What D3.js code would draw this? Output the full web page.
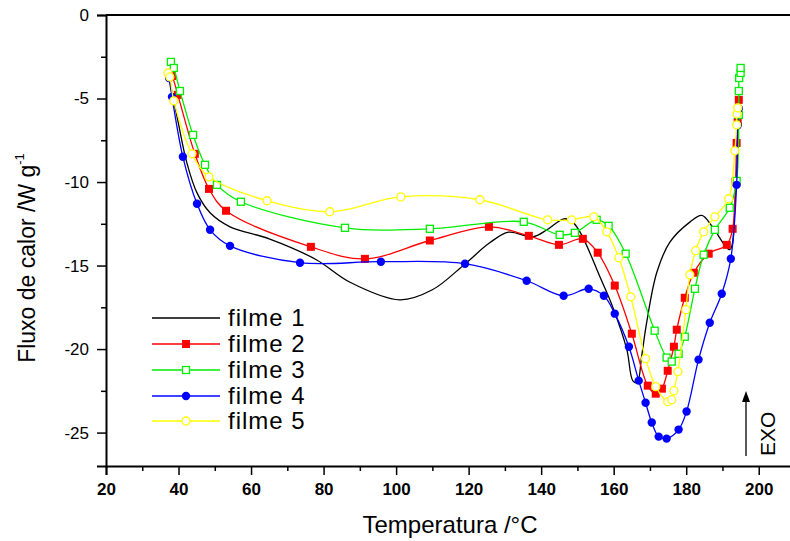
<!DOCTYPE html>
<html><head><meta charset="utf-8">
<script src="https://cdn.jsdelivr.net/npm/d3@7"></script>
<style>body{margin:0;background:#fff;} svg{display:block;font-family:"Liberation Sans",Arial,sans-serif;}</style>
</head><body>
<svg id="c" width="790" height="541"></svg>
<script>
const seriesNames = ["filme 1","filme 2","filme 3","filme 4","filme 5"];
const xTicks = [20,40,60,80,100,120,140,160,180,200];
const yTicks = [0,-5,-10,-15,-20,-25];

const t1 = [37.2,39.6,42.3,45.1,48.7,54.2,65,78,87.3,101,110,119,125.8,131,137.7,141.6,146.3,148.7,151,156.2,159.7,163.6,165.3,166.5,167.7,169.1,171.9,175.5,181,184.3,187.3,192,193.5,194.3,194.6];
const f1 = [-3.6,-6.1,-8.85,-10.65,-11.84,-12.68,-13.4,-14.65,-16.0,-17.05,-16.45,-14.9,-13.64,-13.0,-13.28,-12.86,-12.2,-12.4,-13.1,-15.67,-17.46,-20.0,-21.9,-22.0,-20.45,-18.4,-15.4,-13.6,-12.4,-12.0,-12.7,-14.05,-11,-7,-5.0];

const t2 = [37.4,38.2,39.8,44.5,48.4,53.1,76.5,91.4,109.3,125.6,136.6,144.9,151.5,155.6,160.3,165.0,169.4,171.6,173.3,174.9,176.6,177.4,179.6,182.1,186.2,191.2,192.8,193.6,193.9,194.2,194.5];
const f2 = [-3.47,-3.65,-4.78,-8.31,-10.41,-11.72,-13.88,-14.6,-13.5,-12.68,-13.22,-13.76,-13.4,-14.23,-16.2,-19.08,-22.19,-22.67,-22.37,-21.3,-19.86,-18.84,-16.93,-15.43,-14.29,-13.76,-12.8,-9.99,-7.66,-6.4,-5.08];

const t3 = [37.9,38.7,40.4,44.0,47.3,50.6,57.2,85.9,109.3,135.2,145.1,149.3,155.3,158.6,163.3,171.3,174.6,176.0,177.9,179.6,182.4,184.8,187.9,192.0,193.9,194.5,194.5,194.6,195.0,195.0];
const f3 = [-2.81,-3.17,-4.55,-7.18,-8.97,-10.17,-11.18,-12.74,-12.8,-12.38,-13.16,-13.04,-12.26,-12.62,-14.29,-18.9,-20.51,-20.75,-20.28,-19.26,-16.39,-14.35,-12.86,-11.54,-9.93,-5.98,-4.55,-3.77,-3.47,-3.17];

const t4 = [37.4,38.2,41.2,45.1,48.7,54.2,73.5,95.8,119.0,136.0,146.2,153.1,157.3,160.3,164.2,166.9,168.8,170.5,172.4,174.6,177.9,180.1,183.4,186.5,189.8,192.3,193.9,194.2,194.5];
const f4 = [-3.77,-4.9,-8.49,-11.3,-12.86,-13.82,-14.83,-14.77,-14.89,-15.91,-16.81,-16.39,-16.81,-17.88,-19.86,-21.89,-23.21,-24.4,-25.24,-25.36,-24.82,-23.74,-20.63,-18.42,-16.69,-14.59,-10.17,-6.6,-5.6];

const t5 = [37.1,37.6,38.7,43.7,48.4,64.4,81.7,101.3,123.1,141.8,148.4,154.5,158.1,161.4,164.7,168.8,171.6,174.9,176.0,176.6,177.7,179.9,181.0,182.6,184.8,187.9,191.7,193.4,193.9,194.0,194.2];
const f5 = [-3.47,-3.71,-5.14,-8.31,-9.69,-11.12,-11.78,-10.89,-11.06,-12.26,-12.26,-12.08,-12.98,-14.53,-16.87,-20.57,-22.25,-23.15,-23.03,-22.49,-21.35,-17.64,-15.55,-14.11,-12.98,-12.08,-11.0,-8.13,-6.58,-5.92,-5.56];

const svg = d3.select("#c");
const L=106, R=795, T=15, B=466;
const x = d3.scaleLinear().domain([20,210]).range([L,R]);
const y = d3.scaleLinear().domain([-27,0]).range([B,T]);

// frame
svg.append("line").attr("x1",L).attr("x2",790).attr("y1",T).attr("y2",T).attr("stroke","#000").attr("stroke-width",2);

// axes
const gx = svg.append("g").attr("transform",`translate(0,${B})`)
  .call(d3.axisBottom(x).tickValues(xTicks).tickSize(9).tickPadding(8).tickFormat(d3.format("d")));
gx.select(".domain").attr("stroke-width",2);
gx.selectAll(".tick line").attr("stroke-width",1.5);
gx.selectAll("text").attr("font-size",17).attr("font-weight","bold").attr("font-family","Liberation Sans, Arial");
const gxm = svg.append("g").attr("transform",`translate(0,${B})`)
  .call(d3.axisBottom(x).tickValues(d3.range(30,211,20)).tickSize(5).tickFormat(""));
gxm.select(".domain").remove();
gxm.selectAll(".tick line").attr("stroke-width",1.5);

const gy = svg.append("g").attr("transform",`translate(${L},0)`)
  .call(d3.axisLeft(y).tickValues(yTicks).tickSize(9).tickPadding(8).tickFormat(d=>d===0?"0":d3.format("d")(d).replace("−","-")));
gy.select(".domain").attr("stroke-width",2);
gy.selectAll(".tick line").attr("stroke-width",1.5);
gy.selectAll("text").attr("font-size",17).attr("font-family","Liberation Sans, Arial");
const gym = svg.append("g").attr("transform",`translate(${L},0)`)
  .call(d3.axisLeft(y).tickValues([-2.5,-7.5,-12.5,-17.5,-22.5]).tickSize(5).tickFormat(""));
gym.select(".domain").remove();
gym.selectAll(".tick line").attr("stroke-width",1.5);

// titles
svg.append("text").attr("x",450).attr("y",533).attr("text-anchor","middle").attr("font-size",24).text("Temperatura /°C");
const yt = svg.append("text").attr("transform","translate(35,258) rotate(-90)").attr("text-anchor","middle").attr("font-size",23);
yt.append("tspan").text("Fluxo de calor /W g");
yt.append("tspan").attr("font-size",13).attr("dy",-11).text("-1");

const colors = ["#000000","#ff0000","#00ee00","#0000ff","#ffff00"];
const datasets = [[t1,f1],[t2,f2],[t3,f3],[t4,f4],[t5,f5]];
const markers = [null,"fsq","osq","fci","oci"];

const line = d3.line().x(d=>x(d[0])).y(d=>y(d[1])).curve(d3.curveCatmullRom.alpha(0.5));

function drawMarker(g, type, cx, cy, col){
  if(type==="fsq") g.append("rect").attr("x",cx-4).attr("y",cy-4).attr("width",8).attr("height",8).attr("fill",col);
  else if(type==="osq") g.append("rect").attr("x",cx-3.5).attr("y",cy-3.5).attr("width",7).attr("height",7).attr("fill","#fff").attr("stroke",col).attr("stroke-width",1.3);
  else if(type==="fci") g.append("circle").attr("cx",cx).attr("cy",cy).attr("r",4.2).attr("fill",col);
  else if(type==="oci") g.append("circle").attr("cx",cx).attr("cy",cy).attr("r",4).attr("fill","#fff").attr("stroke",col).attr("stroke-width",1.3);
}

datasets.forEach((ds,i)=>{
  const pts = ds[0].map((t,j)=>[t,ds[1][j]]);
  const g = svg.append("g");
  g.append("path").datum(pts).attr("d",line).attr("fill","none").attr("stroke",colors[i]).attr("stroke-width",1.3);
  if(markers[i]) pts.forEach(p=>drawMarker(g,markers[i],x(p[0]),y(p[1]),colors[i]));
});

// legend
const legY = [318,344,370,396,421];
seriesNames.forEach((n,i)=>{
  const g = svg.append("g");
  g.append("line").attr("x1",152).attr("x2",220).attr("y1",legY[i]).attr("y2",legY[i]).attr("stroke",colors[i]).attr("stroke-width",1.3);
  if(markers[i]) drawMarker(g,markers[i],186,legY[i],colors[i]);
  g.append("text").attr("x",228).attr("y",legY[i]+8).attr("font-size",24).attr("letter-spacing",1).text(n);
});

// EXO arrow
svg.append("line").attr("x1",746).attr("x2",746).attr("y1",456).attr("y2",400).attr("stroke","#000").attr("stroke-width",1.3);
svg.append("path").attr("d","M742,402 L746,391 L750,402 Z").attr("fill","#000");
svg.append("text").attr("transform","translate(775,456) rotate(-90)").attr("font-size",21).attr("text-anchor","start").text("EXO");
</script>
</body></html>
